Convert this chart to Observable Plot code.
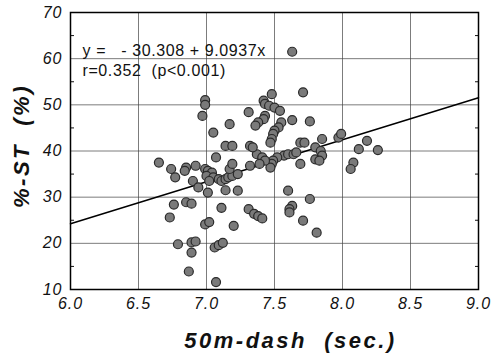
<!DOCTYPE html>
<html>
<head>
<meta charset="utf-8">
<script src="https://cdn.jsdelivr.net/npm/d3@7"></script>
<script src="https://cdn.jsdelivr.net/npm/@observablehq/plot@0.6"></script>
<style>
  html, body { margin: 0; padding: 0; background: #fff; }
</style>
</head>
<body>
<div id="chart"></div>
<script>
// 50m-dash time (sec.)
const dashTime = [
  7.63, 6.99, 6.99, 6.97, 7.31, 7.17, 7.05, 7.14, 7.19, 7.07,
  6.65, 6.74, 6.77, 6.85, 6.84, 6.92, 6.90, 6.94, 7.01, 6.99,
  7.01, 7.04, 7.00, 7.05, 7.02, 7.09, 7.11, 7.14, 7.16, 7.19,
  7.17, 7.19, 7.14, 7.23, 7.23, 6.76, 6.85, 6.89, 6.73, 6.99,
  7.02, 7.11, 7.20, 7.31, 7.35, 7.38, 7.41, 6.79, 6.89, 6.92,
  6.89, 7.06, 7.09, 7.12, 6.87, 7.07, 7.48, 7.42, 7.43, 7.46,
  7.50, 7.54, 7.71, 7.43, 7.42, 7.38, 7.36, 7.63, 7.55, 7.53,
  7.50, 7.49, 7.48, 7.47, 7.76, 7.69, 7.72, 7.85, 7.80, 7.84,
  7.85, 7.97, 7.99, 8.18, 8.12, 8.26, 8.08, 8.06, 7.80, 7.83,
  7.69, 7.57, 7.60, 7.64, 7.66, 7.52, 7.49, 7.48, 7.47, 7.32,
  7.37, 7.41, 7.43, 7.39, 7.32, 7.60, 7.76, 7.63, 7.61, 7.61,
  7.71, 7.81, 7.34
];
// %-ST (%)
const stPercent = [
  61.5, 51.0, 50.0, 47.6, 48.4, 45.8, 44.0, 41.1, 41.1, 38.6,
  37.5, 36.1, 34.3, 36.4, 35.7, 36.8, 33.5, 32.1, 31.0, 36.1,
  35.7, 35.3, 34.6, 34.3, 33.5, 33.9, 33.5, 33.9, 34.3, 34.6,
  36.1, 37.2, 31.5, 31.4, 35.0, 28.4, 28.9, 28.6, 25.6, 24.1,
  24.6, 27.7, 23.8, 27.4, 26.4, 25.9, 25.4, 19.8, 20.2, 20.4,
  18.0, 19.1, 19.6, 20.1, 13.9, 11.6, 52.3, 50.9, 50.2, 49.8,
  49.4, 48.7, 52.7, 47.6, 46.9, 46.2, 45.5, 46.7, 46.2, 45.1,
  44.4, 43.7, 42.6, 41.8, 46.4, 41.8, 41.8, 42.6, 40.8, 40.0,
  39.0, 42.9, 43.7, 42.2, 40.4, 40.2, 37.5, 36.1, 38.2, 37.9,
  37.2, 39.0, 39.3, 39.3, 39.7, 38.6, 37.9, 37.2, 36.4, 41.1,
  39.3, 38.6, 37.9, 37.2, 36.8, 31.4, 29.6, 28.1, 27.4, 26.7,
  24.9, 22.3, 40.8
];
const xTicks = [6.0, 6.5, 7.0, 7.5, 8.0, 8.5, 9.0];
const yTicks = [10, 20, 30, 40, 50, 60, 70];
const yMinorTicks = [15, 25, 35, 45, 55, 65];
const intercept = -30.308;
const slope = 9.0937;
const equationText = "y =  \u00a0- 30.308 + 9.0937x";
const rText = "r=0.352 \u00a0(p<0.001)";
const xTitle = "50m-dash \u00a0(sec.)";
const yTitle = "%-ST \u00a0(%)";

const points = dashTime.map((x, i) => ({x, y: stPercent[i]}));
const xDomain = [xTicks[0], xTicks[xTicks.length - 1]];
const fitLine = xDomain.map(x => ({x, y: intercept + slope * x}));

const font = "'Liberation Sans', Arial, Helvetica, sans-serif";

const chart = Plot.plot({
  width: 494,
  height: 354,
  marginLeft: 70,
  marginRight: 16,
  marginTop: 12,
  marginBottom: 65,
  style: {fontFamily: font, fontSize: "16px", background: "#fff", color: "#111"},
  x: {domain: xDomain},
  y: {domain: [yTicks[0], yTicks[yTicks.length - 1]]},
  marks: [
    Plot.gridX(xTicks.slice(1, -1), {stroke: "#444", strokeOpacity: 0.7, strokeWidth: 1}),
    Plot.gridY(yTicks.slice(1, -1), {stroke: "#444", strokeOpacity: 0.7, strokeWidth: 1}),
    Plot.axisX(xTicks, {tickSize: 0, tickPadding: 8, tickFormat: d => d.toFixed(1), fontStyle: "italic", fontSize: 16, label: null}),
    Plot.axisY(yTicks, {tickSize: 0, tickPadding: 8, fontStyle: "italic", fontSize: 16, label: null}),
    Plot.axisY(yMinorTicks, {anchor: "left", tickSize: -4, tickFormat: () => "", label: null}),
    Plot.axisY(yMinorTicks, {anchor: "right", tickSize: -4, tickFormat: () => "", label: null}),
    Plot.line(fitLine, {x: "x", y: "y", stroke: "#000", strokeWidth: 1.5}),
    Plot.dot(points, {x: "x", y: "y", r: 4.5, fill: "#7a7a7a", stroke: "#2a2a2a", strokeWidth: 1.2}),
    Plot.frame({stroke: "#000", strokeWidth: 1.5}),
    Plot.text([equationText], {frameAnchor: "top-left", dx: 12, dy: 43, lineAnchor: "bottom", textAnchor: "start", fontSize: 16, fill: "#111"}),
    Plot.text([rText], {frameAnchor: "top-left", dx: 12, dy: 63, lineAnchor: "bottom", textAnchor: "start", fontSize: 16, fill: "#111"}),
    Plot.text([xTitle], {frameAnchor: "bottom", dx: 16, dy: 58, lineAnchor: "bottom", textAnchor: "middle", fontSize: 22, fontWeight: "bold", fontStyle: "italic", fill: "#111"}),
    Plot.text([yTitle], {frameAnchor: "left", dx: -49, dy: -5, rotate: -90, lineAnchor: "middle", textAnchor: "middle", fontSize: 22, fontWeight: "bold", fontStyle: "italic", fill: "#111"})
  ]
});

// letter spacing tweaks to mimic the scanned typeface
chart.querySelectorAll("text").forEach(t => {
  const s = t.textContent;
  if (s === xTitle || s === yTitle) t.setAttribute("letter-spacing", "2.5");
  else if (s === equationText || s === rText) t.setAttribute("letter-spacing", "0.6");
  else if (/^\d+(\.\d)?$/.test(s)) t.setAttribute("letter-spacing", "1");
});

document.getElementById("chart").appendChild(chart);
</script>
</body>
</html>
